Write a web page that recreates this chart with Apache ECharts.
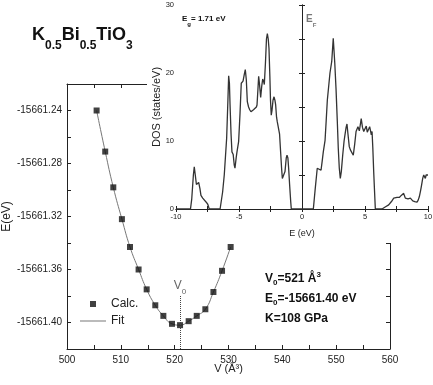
<!DOCTYPE html>
<html><head><meta charset="utf-8">
<script src="https://cdn.jsdelivr.net/npm/echarts@6/dist/echarts.min.js"></script>
<style>html,body{margin:0;padding:0;background:#fff}#c{width:433px;height:385px}</style>
</head><body><div id="c"></div>
<script>
// ---- E(V) data (main plot) ----
const volumes = [505.5, 507.1, 508.6, 510.2, 511.7, 513.3, 514.8, 516.4, 517.9, 519.5, 521.0, 522.6, 524.1, 525.7, 527.2, 528.8, 530.4];
const energies = [-15661.240, -15661.271, -15661.298, -15661.322, -15661.343, -15661.360, -15661.375, -15661.387, -15661.395, -15661.401, -15661.402, -15661.399, -15661.395, -15661.390, -15661.377, -15661.361, -15661.343];
const fitEnergies = [-15661.240, -15661.271, -15661.298, -15661.322, -15661.343, -15661.360, -15661.375, -15661.387, -15661.395, -15661.401, -15661.402, -15661.399, -15661.395, -15661.390, -15661.377, -15661.361, -15661.343];
const v0 = 521;
const v0MarkerTop = -15661.38;
const eTickLabels = ['-15661.24', '-15661.28', '-15661.32', '-15661.36', '-15661.40'];
const vTickLabels = [500, 510, 520, 530, 540, 550, 560];

// ---- DOS data (inset) ----
const dosEnergy = [-10,-8.85,-8.75,-8.62,-8.55,-8.47,-8.38,-8.3,-8.2,-8.1,-8.02,-7.88,-7.75,-7.6,-7.48,-7.36,-6.5,-6.3,-6.17,-5.98,-5.88,-5.82,-5.76,-5.71,-5.63,-5.56,-5.46,-5.38,-5.32,-5.22,-5.16,-5.03,-4.92,-4.82,-4.68,-4.58,-4.5,-4.42,-4.34,-4.24,-4.15,-4.05,-3.94,-3.85,-3.75,-3.62,-3.57,-3.5,-3.44,-3.38,-3.28,-3.2,-3.12,-3.05,-2.99,-2.9,-2.82,-2.75,-2.68,-2.62,-2.55,-2.5,-2.44,-2.38,-2.3,-2.22,-2.15,-2.09,-2.02,-1.96,-1.85,-1.78,-1.7,-1.62,-1.56,-1.45,-1.35,-1.25,-1.19,-1.12,-1.06,-0.98,-0.9,-0.85,0.9,1.05,1.21,1.35,1.51,1.6,1.69,1.83,1.92,2.01,2.22,2.36,2.48,2.6,2.7,2.8,2.88,2.96,3.04,3.12,3.23,3.34,3.41,3.5,3.57,3.65,3.75,3.84,3.94,4.07,4.18,4.29,4.44,4.55,4.62,4.7,4.8,4.9,5.0,5.1,5.18,5.24,5.3,5.37,5.44,5.5,5.56,5.62,5.69,5.76,5.82,6.35,6.6,6.88,7.1,7.28,7.4,7.54,7.63,7.72,7.8,7.88,7.95,8.07,8.14,8.2,8.3,8.41,8.5,8.6,8.7,8.79,8.95,9.13,9.22,9.31,9.4,9.47,9.58,9.66,9.73,9.79,9.85,9.92,10];
const dosValues = [0,0,1.5,5.0,6.2,5.0,3.6,3.8,3.9,3.0,2.0,1.6,1.4,1.0,0.7,0,0,2.5,5.0,10.4,16,19.6,18.5,15.3,11,8.4,8.0,6.5,6.0,7.6,8.4,9.9,14,18.5,18.8,19.8,20.5,19,15.8,15.0,14.6,14.3,14.2,14.6,14.8,15.0,15.3,17.5,19.5,18.5,16.4,18.0,19.1,18.8,18.3,21.5,25.0,25.8,25.0,23.6,19.5,16,13.8,14.5,16.0,16.5,16.0,15.3,13.5,12.8,12.6,11,8.5,6,4.5,4.3,5.5,7.5,7.9,7.5,6.0,3.5,1.2,0,0,3,6.0,6.2,5.7,7,8.4,10.1,13,16.0,20.0,21.7,25.1,21.5,17.7,13,8.9,6,4.5,5.5,7.9,10,10.9,12,12.5,11,9.2,8.7,8.5,7.9,9.5,11.4,12.1,11.5,12.3,13.3,12.0,11.4,11.6,12.2,11.3,11.1,11.8,12.1,11.5,10.9,11.4,9,5.5,2.5,0,0,0.3,0.6,1.1,1.6,1.6,1.7,1.5,1.7,1.8,2.0,1.9,2.3,1.9,1.6,1.7,1.5,1.4,1.6,1.4,1.2,1.1,1.0,1.3,1.8,2.6,3.3,4.5,5.0,4.8,4.5,5.0,5.2,5.0];
const fermiEnergy = 0;
const dosXTicks = [-10, -5, 0, 5, 10];
const dosYTicks = [0, 10, 20, 30];

const FONT = 'Liberation Sans, Arial, sans-serif';
const AX = '#222';

function frameAxis(extra) {
  return Object.assign({
    type: 'value',
    nameMoveOverlap: false,
    axisLine: { show: true, lineStyle: { color: AX, width: 1 } },
    axisTick: { show: true, inside: true, length: 4, lineStyle: { color: AX } },
    minorTick: { show: false },
    splitLine: { show: false },
    axisLabel: { show: false }
  }, extra);
}

const chart = echarts.init(document.getElementById('c'), null, { renderer: 'canvas' });
chart.setOption({
  animation: false,
  backgroundColor: '#fff',
  textStyle: { fontFamily: FONT },
  grid: [
    { left: 67, top: 84, width: 323, height: 265, containLabel: false, outerBoundsMode: 'none' },
    { left: 176, top: 5, width: 252, height: 204, containLabel: false, outerBoundsMode: 'none' }
  ],
  title: [
    { left: 32, top: 26, padding: 0,
      text: '{b|K}{s|0.5}{b|Bi}{s|0.5}{b|TiO}{s|3}',
      textStyle: { rich: {
        b: { fontSize: 18, fontWeight: 'bold', lineHeight: 18, verticalAlign: 'top', color: '#111', fontFamily: FONT },
        s: { fontSize: 12, fontWeight: 'bold', lineHeight: 12, verticalAlign: 'top', padding: [14, 0, 0, 0], color: '#111', fontFamily: FONT }
      } } },
    { left: 182, top: 15, padding: 0, z: 8,
      text: '{b|E}{s|g}{b|= 1.71 eV}',
      textStyle: { rich: {
        b: { fontSize: 8, fontWeight: 'bold', lineHeight: 9, verticalAlign: 'top', color: '#111', fontFamily: FONT },
        s: { fontSize: 6, fontWeight: 'bold', lineHeight: 6, verticalAlign: 'top', padding: [6, 0, 0, 0], color: '#111', fontFamily: FONT }
      } } },
    { left: 306, top: 14, padding: 0, z: 8,
      text: '{b|E}{s|F}',
      textStyle: { rich: {
        b: { fontSize: 10, lineHeight: 11, verticalAlign: 'top', color: '#777', fontFamily: FONT },
        s: { fontSize: 6, lineHeight: 6, verticalAlign: 'top', padding: [8, 0, 0, 0], color: '#777', fontFamily: FONT }
      } } },
    { left: 265, top: 269, padding: 0,
      text: '{b|V}{s|0}{b|=521 Å}{p|3}\n{b|E}{s|0}{b|=-15661.40 eV}\n{b|K=108 GPa}',
      textStyle: { rich: {
        b: { fontSize: 12, fontWeight: 'bold', lineHeight: 20, color: '#111', fontFamily: FONT },
        s: { fontSize: 8, fontWeight: 'bold', lineHeight: 8, verticalAlign: 'top', padding: [10, 0, 0, 0], color: '#111', fontFamily: FONT },
        p: { fontSize: 8, fontWeight: 'bold', lineHeight: 8, verticalAlign: 'top', padding: [2, 0, 0, 0], color: '#111', fontFamily: FONT }
      } } }
  ],
  legend: {
    orient: 'vertical', left: 80, top: 298, padding: 0, itemWidth: 26, itemHeight: 6, itemGap: 5,
    textStyle: { fontSize: 12, color: '#222', fontFamily: FONT },
    data: [
      { name: 'Calc.', icon: 'path://M0,0H6V6H0Z' },
      { name: 'Fit', icon: 'path://M0,0H26V1H0Z' }
    ]
  },
  graphic: [
    { type: 'rect', x: 147, y: 0, z: 3, shape: { width: 286, height: 243 }, style: { fill: '#fff' }, silent: true }
  ],
  xAxis: [
    frameAxis({ gridIndex: 0, position: 'bottom', min: 500, max: 560, interval: 10,
      minorTick: { show: true, splitNumber: 2, length: 4, lineStyle: { color: AX } },
      axisLabel: { show: true, fontSize: 10, color: '#222', margin: 6,
        formatter: v => vTickLabels.indexOf(Math.round(v)) >= 0 ? String(Math.round(v)) : '' },
      name: 'V (Å³)', nameLocation: 'middle', nameGap: 14,
      nameTextStyle: { fontSize: 11, color: '#222', fontFamily: FONT } }),
    frameAxis({ gridIndex: 0, position: 'top', min: 500, max: 560, interval: 10,
      minorTick: { show: true, splitNumber: 2, length: 4, lineStyle: { color: AX } } }),
    frameAxis({ gridIndex: 1, position: 'bottom', min: -10, max: 10, interval: 5, z: 5,
      minorTick: { show: true, splitNumber: 2, length: 3, lineStyle: { color: AX } },
      axisTick: { show: true, inside: true, length: 3, lineStyle: { color: AX } },
      axisLabel: { show: true, fontSize: 7.5, color: '#222', margin: 4,
        formatter: v => dosXTicks.indexOf(Math.round(v)) >= 0 ? String(Math.round(v)) : '' },
      name: 'E (eV)', nameLocation: 'middle', nameGap: 20,
      nameTextStyle: { fontSize: 9, color: '#222', fontFamily: FONT } }),
    frameAxis({ gridIndex: 1, position: 'top', min: -10, max: 10, interval: 5, z: 5,
      minorTick: { show: true, splitNumber: 2, length: 3, lineStyle: { color: AX } },
      axisTick: { show: true, inside: true, length: 3, lineStyle: { color: AX } } })
  ],
  yAxis: [
    frameAxis({ gridIndex: 0, position: 'left', min: -15661.42, max: -15661.22, interval: 0.02,
      axisLabel: { show: true, fontSize: 10, color: '#222', margin: 5,
        formatter: v => { const s = v.toFixed(2); return eTickLabels.indexOf(s) >= 0 ? s : ''; } },
      name: 'E(eV)', nameLocation: 'middle', nameGap: 54,
      nameTextStyle: { fontSize: 12, color: '#222', fontFamily: FONT } }),
    frameAxis({ gridIndex: 0, position: 'right', min: -15661.42, max: -15661.22, interval: 0.02 }),
    frameAxis({ gridIndex: 1, position: 'left', min: 0, max: 30, interval: 10, z: 5,
      minorTick: { show: true, splitNumber: 2, length: 3, lineStyle: { color: AX } },
      axisTick: { show: true, inside: true, length: 3, lineStyle: { color: AX } },
      axisLabel: { show: true, fontSize: 7.5, color: '#222', margin: 2,
        formatter: v => dosYTicks.indexOf(Math.round(v)) >= 0 ? String(Math.round(v)) : '' },
      name: 'DOS (states/eV)', nameLocation: 'middle', nameGap: 14,
      nameTextStyle: { fontSize: 11, color: '#222', fontFamily: FONT } }),
    frameAxis({ gridIndex: 1, position: 'right', min: 0, max: 30, interval: 10, z: 5,
      minorTick: { show: true, splitNumber: 2, length: 3, lineStyle: { color: AX } },
      axisTick: { show: true, inside: true, length: 3, lineStyle: { color: AX } } })
  ],
  series: [
    { name: 'Fit', type: 'line', xAxisIndex: 0, yAxisIndex: 0, smooth: true, symbol: 'none',
      lineStyle: { color: '#777', width: 1 }, itemStyle: { color: '#777' },
      data: volumes.map((v, i) => [v, fitEnergies[i]]), z: 2 },
    { name: 'Calc.', type: 'scatter', xAxisIndex: 0, yAxisIndex: 0, symbol: 'rect', symbolSize: 6,
      itemStyle: { color: '#111' }, z: 3,
      data: volumes.map((v, i) => [v, energies[i]]),
      markLine: {
        silent: true, symbol: ['none', 'arrow'], symbolSize: [0, 6],
        lineStyle: { color: '#444', type: 'dotted', width: 1 },
        label: { show: true, position: 'start', distance: 2, formatter: '{a|V}{b|0}',
          rich: {
            a: { fontSize: 12, lineHeight: 14, verticalAlign: 'top', color: '#666', fontFamily: FONT },
            b: { fontSize: 8, lineHeight: 8, verticalAlign: 'top', padding: [8, 0, 0, 0], color: '#666', fontFamily: FONT }
          } },
        data: [[{ coord: [v0, v0MarkerTop] }, { coord: [v0, -15661.42] }]]
      } },
    { name: 'DOS', type: 'line', xAxisIndex: 2, yAxisIndex: 2, symbol: 'none', z: 6,
      lineStyle: { color: '#333', width: 1.3 },
      data: dosEnergy.map((e, i) => [e, dosValues[i]]),
      markLine: {
        silent: true, symbol: 'none', label: { show: false },
        lineStyle: { color: '#999', type: [3, 3], width: 0.8 },
        data: [{ xAxis: fermiEnergy }]
      } }
  ]
});
</script></body></html>
